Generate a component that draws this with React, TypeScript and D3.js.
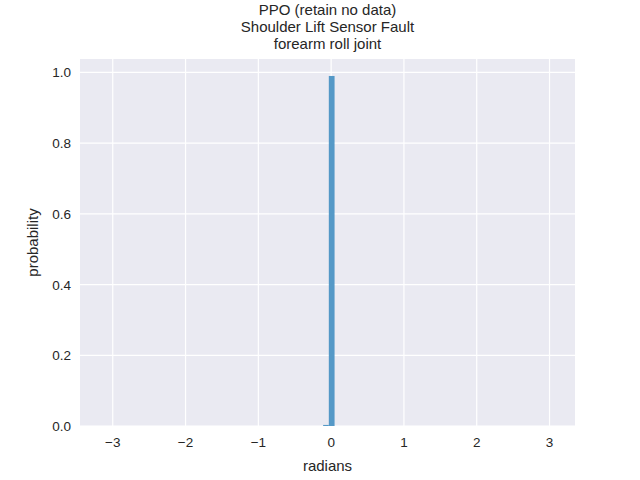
import * as d3 from "d3";

const titleLines = ["PPO (retain no data)", "Shoulder Lift Sensor Fault", "forearm roll joint"];
const binStarts = [-0.11, -0.032];
const binEnds = [-0.032, 0.047];
const binValues = [0.003, 0.99];
const xTicks = [-3, -2, -1, 0, 1, 2, 3];
const yTicks = [0, 0.2, 0.4, 0.6, 0.8, 1.0];

export default function App() {
  const W = 640, H = 480;
  const left = 80, right = 575, top = 59, bottom = 426;
  const x = d3.scaleLinear().domain([-3.45, 3.35]).range([left, right]);
  const y = d3.scaleLinear().domain([0, 1.038]).range([bottom, top]);
  const font = "Liberation Sans, Arial, sans-serif";
  const ink = "#262626";
  return (
    <svg width={W} height={H} style={{ position: "absolute", left: 0, top: 0 }} fontFamily={font}>
      <rect width={W} height={H} fill="#fff" />
      <rect x={left} y={top} width={right - left} height={bottom - top} fill="#eaeaf2" />
      {xTicks.map((t) => (
        <line key={"gx" + t} x1={x(t)} x2={x(t)} y1={top} y2={bottom} stroke="#fff" strokeWidth={1.2} />
      ))}
      {yTicks.map((t) => (
        <line key={"gy" + t} x1={left} x2={right} y1={y(t)} y2={y(t)} stroke="#fff" strokeWidth={1.2} />
      ))}
      {binValues.map((v, i) => (
        <rect key={i} x={x(binStarts[i])} width={x(binEnds[i]) - x(binStarts[i])} y={y(v)} height={y(0) - y(v)}
          fill="#4c94c4" fillOpacity={0.95} />
      ))}
      {xTicks.map((t) => (
        <text key={"tx" + t} x={x(t)} y={bottom + 21} textAnchor="middle" fontSize={13.5} fill={ink}>
          {t < 0 ? "\u2212" + Math.abs(t) : t}
        </text>
      ))}
      {yTicks.map((t) => (
        <text key={"ty" + t} x={left - 9} y={y(t) + 5} textAnchor="end" fontSize={13.5} fill={ink}>
          {t.toFixed(1)}
        </text>
      ))}
      <text x={(left + right) / 2} y={471} textAnchor="middle" fontSize={15} fill={ink}>radians</text>
      <text transform={`translate(38,${(top + bottom) / 2}) rotate(-90)`} textAnchor="middle" fontSize={15} fill={ink}>
        probability
      </text>
      {titleLines.map((l, i) => (
        <text key={l} x={(left + right) / 2} y={15 + i * 17} textAnchor="middle" fontSize={15} fill={ink}>{l}</text>
      ))}
    </svg>
  );
}
